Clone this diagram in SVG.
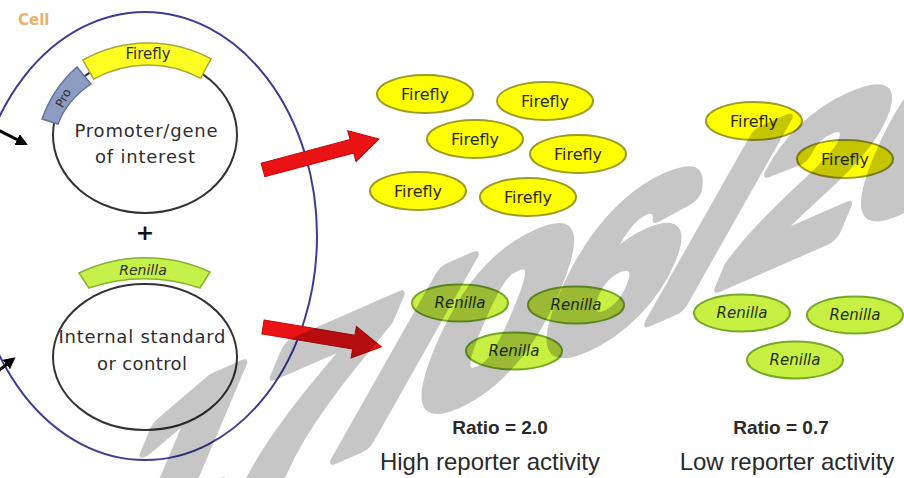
<svg xmlns="http://www.w3.org/2000/svg" width="904" height="478" viewBox="0 0 904 478">
  <defs>
    <!-- block arrow used for the expression arrows -->
    <path id="blockArrow" d="M0,-7 L92,-7 L92,-16 L120,0 L92,16 L92,7 L0,7 Z"/>
    <marker id="blackHead" markerUnits="userSpaceOnUse" markerWidth="13" markerHeight="13" refX="1" refY="6" orient="auto">
      <path d="M0,0 L12,6 L0,12 Z" fill="#000"/>
    </marker>
  </defs>
  <style>
    .hand { font-family: "DejaVu Sans", "Liberation Sans", sans-serif; fill: #2e2e2e; }
    .label { font-family: "Liberation Sans", Arial, sans-serif; fill: #2a2a2a; text-anchor: middle; }
    .ff ellipse { fill: #ffff00; stroke: #9c9c24; stroke-width: 2; }
    .ff text { font-family: "DejaVu Sans", sans-serif; font-size: 16px; fill: #2a2a1a; text-anchor: middle; }
    .rn ellipse { fill: #c8f042; stroke: #78a82a; stroke-width: 2; }
    .rn text { font-family: "DejaVu Sans", sans-serif; font-size: 15px; font-style: italic; fill: #1f2f08; text-anchor: middle; }
    .plasmid { fill: none; stroke: #333; stroke-width: 2; }
    .red { fill: #ea1212; stroke: #c20808; stroke-width: 1; }
    .blk { stroke: #000; stroke-width: 3; fill: none; }
  </style>

  <rect width="904" height="478" fill="#fff"/>

  <!-- cell boundary -->
  <g id="cell">
    <ellipse cx="145" cy="236" rx="172" ry="224" fill="none" stroke="#3c3c98" stroke-width="2"/>
    <text x="18" y="25" font-family="DejaVu Sans, sans-serif" font-weight="bold" font-size="15" fill="#eab26c">Cell</text>
  </g>

  <!-- reporter plasmid: promoter + firefly luciferase -->
  <g id="plasmid-firefly">
    <ellipse class="plasmid" cx="145" cy="135" rx="92" ry="78"/>
    <path d="M82.9,60 A133,133 0 0,1 211.1,58.9 L200.6,78.3 A111,111 0 0,0 93.7,79.2 Z" fill="#ffff22" stroke="#a8a83a" stroke-width="1.5"/>
    <text class="hand" x="148" y="59" font-size="15" text-anchor="middle">Firefly</text>
    <path d="M77,67 Q53,88 42,119 L58,124 Q67,100 91,84 Z" fill="#8c9cc2" stroke="#62729f" stroke-width="1.5"/>
    <text class="hand" transform="translate(67,100) rotate(-62)" font-size="12" text-anchor="middle">Pro</text>
    <text class="hand" x="146" y="137" font-size="18" text-anchor="middle" textLength="143">Promoter/gene</text>
    <text class="hand" x="145" y="163" font-size="18" text-anchor="middle" textLength="100">of interest</text>
  </g>

  <g id="plus">
    <text x="145" y="240" font-family="DejaVu Sans, sans-serif" font-weight="bold" font-size="22" text-anchor="middle" fill="#111">+</text>
  </g>

  <!-- control plasmid: renilla luciferase -->
  <g id="plasmid-renilla">
    <ellipse class="plasmid" cx="145" cy="357" rx="92" ry="73"/>
    <path d="M79,273 A152,152 0 0,1 210,272 L200,288 A175,175 0 0,0 89,288 Z" fill="#c6f04a" stroke="#86b030" stroke-width="1.5"/>
    <text class="hand" x="143" y="275" font-size="14" font-style="italic" text-anchor="middle" fill="#1f3000">Renilla</text>
    <text class="hand" x="142" y="343" font-size="18" text-anchor="middle" textLength="167">Internal standard</text>
    <text class="hand" x="142" y="370" font-size="18" text-anchor="middle" textLength="90">or control</text>
  </g>

  <!-- arrows -->
  <g id="connectors">
    <line class="blk" x1="-4" y1="129" x2="18" y2="140" marker-end="url(#blackHead)"/>
    <line class="blk" x1="-3" y1="372" x2="7" y2="364" marker-end="url(#blackHead)"/>
    <use href="#blockArrow" class="red" transform="translate(263,170) rotate(-15)"/>
    <use href="#blockArrow" class="red" transform="translate(263,327) rotate(9.5)"/>
  </g>

  <!-- high activity: firefly products -->
  <g id="ff-high-1" class="ff"><ellipse cx="425" cy="94" rx="48" ry="19"/><text x="425" y="100">Firefly</text></g>
  <g id="ff-high-2" class="ff"><ellipse cx="545" cy="101" rx="48" ry="19"/><text x="545" y="107">Firefly</text></g>
  <g id="ff-high-3" class="ff"><ellipse cx="475" cy="139" rx="48" ry="19"/><text x="475" y="145">Firefly</text></g>
  <g id="ff-high-4" class="ff"><ellipse cx="578" cy="154" rx="48" ry="19"/><text x="578" y="160">Firefly</text></g>
  <g id="ff-high-5" class="ff"><ellipse cx="418" cy="191" rx="48" ry="19"/><text x="418" y="197">Firefly</text></g>
  <g id="ff-high-6" class="ff"><ellipse cx="528" cy="197" rx="48" ry="19"/><text x="528" y="203">Firefly</text></g>

  <!-- low activity: firefly products -->
  <g id="ff-low-1" class="ff"><ellipse cx="754" cy="121" rx="48" ry="19"/><text x="754" y="127">Firefly</text></g>
  <g id="ff-low-2" class="ff"><ellipse cx="845" cy="159" rx="48" ry="19"/><text x="845" y="165">Firefly</text></g>

  <!-- renilla products -->
  <g id="rn-high-1" class="rn"><ellipse cx="460" cy="303" rx="48" ry="18.5"/><text x="460" y="308">Renilla</text></g>
  <g id="rn-high-2" class="rn"><ellipse cx="576" cy="305" rx="48" ry="18.5"/><text x="576" y="310">Renilla</text></g>
  <g id="rn-high-3" class="rn"><ellipse cx="514" cy="351" rx="48" ry="18.5"/><text x="514" y="356">Renilla</text></g>
  <g id="rn-low-1" class="rn"><ellipse cx="742" cy="313" rx="48" ry="18.5"/><text x="742" y="318">Renilla</text></g>
  <g id="rn-low-2" class="rn"><ellipse cx="855" cy="315" rx="48" ry="18.5"/><text x="855" y="320">Renilla</text></g>
  <g id="rn-low-3" class="rn"><ellipse cx="795" cy="360" rx="48" ry="18.5"/><text x="795" y="365">Renilla</text></g>

  <!-- results -->
  <g id="result-high">
    <text class="label" x="500" y="434" font-size="19" font-weight="bold">Ratio = 2.0</text>
    <text class="label" x="490" y="470" font-size="24">High reporter activity</text>
  </g>
  <g id="result-low">
    <text class="label" x="781" y="434" font-size="19" font-weight="bold">Ratio = 0.7</text>
    <text class="label" x="787" y="470" font-size="24">Low reporter activity</text>
  </g>

  <!-- date stamp across the figure -->
  <g id="stamp" opacity="0.22">
    <text transform="matrix(1.05,-0.46,-0.45,1.06,88,562)" font-family="Liberation Sans, Arial, sans-serif" font-weight="bold" font-size="215" fill="#000" stroke="#000" stroke-width="16" stroke-linejoin="round">17/06/20</text>
  </g>
</svg>
